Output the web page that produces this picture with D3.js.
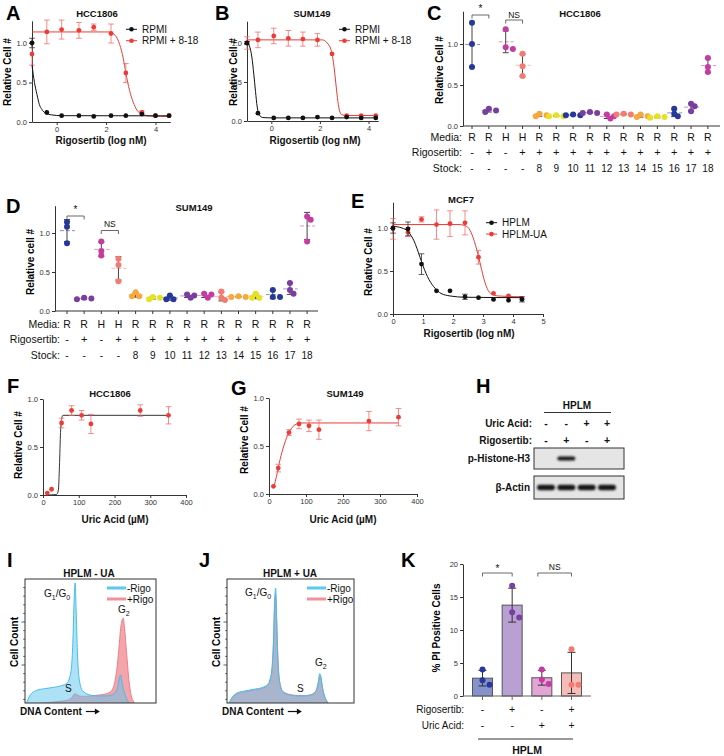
<!DOCTYPE html>
<html>
<head>
<meta charset="utf-8">
<title></title>
<style type="text/css">
body { margin: 0; background: #fff; }
svg { font-family: "Liberation Sans", Arial, sans-serif; }
.axis .tick text { font-family: "Liberation Sans", Arial, sans-serif; font-size: 7.5px; fill: #333; }
.axis .domain, .axis .tick line { stroke: #333; }
.letter { font-weight: bold; font-size: 20px; }
</style>
</head>
<body>
<svg width="724" height="756"></svg>
<script src="https://d3js.org/d3.v7.min.js"></script>
<script type="text/javascript">
// ---------- A: HCC1806, RPMI vs RPMI + 8-18 ----------
var doseA = [-1, -0.4, 0.2, 0.9, 1.5, 2.2, 2.8, 3.45, 4.0, 4.55];
var rpmiA = [1.0, 0.12, 0.08, 0.08, 0.07, 0.08, 0.08, 0.10, 0.08, 0.08];
var rpmiAErr = [0.06, 0.01, 0, 0, 0, 0, 0, 0.01, 0, 0];
var rpmi818A = [0.86, 1.14, 1.17, 1.16, 1.20, 1.12, 0.62, 0.12, 0.08, 0.08];
var rpmi818AErr = [0.14, 0.15, 0.12, 0.10, 0.04, 0.12, 0.12, 0.02, 0.01, 0.01];
var fitRpmiA = [[-1, 0.72], [-0.9, 0.5], [-0.8, 0.35], [-0.7, 0.22], [-0.6, 0.16], [-0.45, 0.11], [-0.2, 0.09], [0.2, 0.08], [4.6, 0.078]];
var fitRpmi818A = [[-1, 1.14], [2.1, 1.14], [2.36, 1.1], [2.55, 0.98], [2.7, 0.8], [2.8, 0.62], [2.95, 0.4], [3.1, 0.25], [3.25, 0.15], [3.45, 0.1], [3.8, 0.075], [4.6, 0.07]];

// ---------- B: SUM149 ----------
var doseB = [-1, -0.55, 0.1, 0.7, 1.3, 1.9, 2.5, 3.1, 3.7, 4.3];
var rpmiB = [1.0, 0.10, 0.04, 0.04, 0.04, 0.05, 0.04, 0.05, 0.04, 0.04];
var rpmiBErr = [0.02, 0.01, 0, 0, 0, 0, 0, 0, 0, 0];
var rpmi818B = [1.0, 1.04, 1.09, 1.06, 1.05, 1.04, 0.86, 0.07, 0.07, 0.07];
var rpmi818BErr = [0.08, 0.10, 0.10, 0.10, 0.09, 0.08, 0.01, 0.01, 0.01, 0.01];
var fitRpmiB = [[-1, 1.0], [-0.9, 0.96], [-0.8, 0.82], [-0.72, 0.6], [-0.65, 0.38], [-0.58, 0.18], [-0.5, 0.08], [-0.35, 0.045], [0, 0.04], [4.3, 0.04]];
var fitRpmi818B = [[-1, 1.04], [2.1, 1.04], [2.3, 1.0], [2.45, 0.92], [2.5, 0.86], [2.58, 0.7], [2.65, 0.5], [2.72, 0.3], [2.8, 0.14], [2.9, 0.08], [3.1, 0.07], [4.3, 0.07]];

// ---------- C / D: stock screen ----------
var mediaLab = ["R", "R", "H", "H", "R", "R", "R", "R", "R", "R", "R", "R", "R", "R", "R"];
var rigoLab = ["-", "+", "-", "+", "+", "+", "+", "+", "+", "+", "+", "+", "+", "+", "+"];
var stockLab = ["-", "-", "-", "-", "8", "9", "10", "11", "12", "13", "14", "15", "16", "17", "18"];
var cellC = [[1.26, 1.0, 0.72], [0.21, 0.19, 0.17], [1.18, 0.96, 0.94], [0.88, 0.73, 0.61],
  [0.15, 0.13, 0.12], [0.13, 0.12, 0.12], [0.14, 0.13, 0.13], [0.17, 0.16, 0.16], [0.14, 0.12, 0.09],
  [0.15, 0.14, 0.14], [0.14, 0.12, 0.11], [0.12, 0.11, 0.10], [0.21, 0.15, 0.12], [0.27, 0.24, 0.18],
  [0.83, 0.72, 0.66]];
var cellD = [[1.14, 1.08, 0.87], [0.17, 0.16, 0.15], [0.89, 0.77, 0.71], [0.67, 0.59, 0.38],
  [0.24, 0.19, 0.19], [0.18, 0.17, 0.15], [0.20, 0.15, 0.15], [0.21, 0.20, 0.17], [0.22, 0.21, 0.17],
  [0.25, 0.17, 0.14], [0.19, 0.18, 0.18], [0.22, 0.17, 0.17], [0.27, 0.18, 0.18], [0.36, 0.27, 0.22],
  [1.21, 1.17, 0.89]];

// ---------- E: MCF7 ----------
var doseE = [0, 0.5, 0.95, 1.45, 1.9, 2.4, 2.85, 3.35, 3.85, 4.3];
var hplmE = [1.0, 0.99, 0.58, 0.27, 0.27, 0.20, 0.19, 0.17, 0.16, 0.17];
var hplmEErr = [0.06, 0.08, 0.12, 0.01, 0.01, 0.03, 0.01, 0.01, 0.01, 0.03];
var hplmUaE = [0.99, 0.95, 1.10, 1.04, 1.05, 1.06, 0.66, 0.24, 0.21, 0.18];
var hplmUaEErr = [0.12, 0.05, 0.03, 0.17, 0.15, 0.14, 0.08, 0.01, 0.01, 0.01];
var fitHplmE = [[0, 1.02], [0.3, 1.0], [0.5, 0.96], [0.7, 0.85], [0.9, 0.66], [1.0, 0.56], [1.2, 0.4], [1.4, 0.3], [1.6, 0.24], [1.9, 0.21], [2.4, 0.195], [4.3, 0.19]];
var fitHplmUaE = [[0, 1.04], [2.2, 1.04], [2.45, 1.02], [2.6, 0.95], [2.75, 0.8], [2.85, 0.67], [2.95, 0.52], [3.1, 0.33], [3.25, 0.24], [3.5, 0.21], [4.3, 0.2]];

// ---------- F / G: uric acid rescue ----------
var uricF = [12, 24, 52, 80, 108, 134, 272, 351];
var cellF = [0.02, 0.06, 0.75, 0.88, 0.83, 0.74, 0.88, 0.83];
var cellFErr = [0, 0.01, 0.05, 0.05, 0.05, 0.10, 0.06, 0.09];
var fitF = [[10, 0], [38, 0.005], [43, 0.05], [46, 0.3], [49, 0.65], [52, 0.79], [56, 0.83], [350, 0.83]];
var uricG = [12, 25, 54, 81, 108, 135, 270, 350];
var cellG = [0.08, 0.27, 0.64, 0.73, 0.71, 0.67, 0.76, 0.80];
var cellGErr = [0.01, 0.04, 0.03, 0.05, 0.06, 0.10, 0.10, 0.09];
var fitG = [[12, 0.06], [20, 0.18], [30, 0.36], [40, 0.5], [50, 0.61], [60, 0.68], [70, 0.72], [85, 0.74], [350, 0.74]];

// ---------- H: western blot ----------
var uricH = ["-", "-", "+", "+"];
var rigoH = ["-", "+", "-", "+"];
var pHistone = [0, 1, 0, 0];
var actin = [1, 1, 1, 1];

// ---------- I / J: cell cycle histograms (DNA content in % of range, counts) ----------
var dnaBins = [0, 3, 8, 15, 22, 28, 32, 34, 35.5, 36.5, 37.5, 38.3, 39, 40, 41.5, 44, 50, 56, 62, 66, 68.5, 70.5, 72, 73, 74, 75, 76, 77.5, 79.5, 82, 86, 92, 100];
var minusRigoI = [0, 25, 40, 45, 48, 52, 58, 70, 95, 150, 250, 291, 230, 130, 65, 40, 30, 28, 28, 30, 35, 45, 70, 77, 60, 45, 35, 22, 12, 5, 2, 0, 0];
var plusRigoI = [0, 5, 10, 12, 14, 16, 18, 20, 24, 28, 32, 34, 32, 30, 28, 27, 28, 30, 33, 40, 60, 100, 150, 185, 203, 209, 185, 130, 60, 20, 6, 0, 0];
var minusRigoJ = [0, 20, 35, 40, 44, 48, 55, 68, 95, 150, 250, 279, 220, 120, 60, 38, 30, 28, 28, 30, 34, 42, 62, 80, 72, 50, 36, 22, 12, 5, 2, 0, 0];
var plusRigoJ = [0, 18, 33, 38, 42, 46, 52, 64, 90, 140, 235, 265, 210, 118, 60, 38, 31, 29, 29, 31, 35, 43, 60, 76, 70, 50, 36, 22, 12, 5, 2, 0, 0];

// ---------- K: % PI positive ----------
var piK = [[4.0, 2.4, 1.7], [16.7, 12.7, 11.9], [4.0, 2.5, 1.8], [7.1, 1.7, 1.7]];
var rigoK = ["-", "+", "-", "+"];
var uricK = ["-", "-", "+", "+"];

// ======================================================
var svg = d3.select("svg");
var red = "#ee3b36", redErr = "#f36d6d", black = "#111";
var palette = ["#26399b", "#7a3da0", "#c43ca1", "#f37b72", "#f8a73d", "#e6e223"];
var barFill = ["#8592cc", "#b9a0d3", "#e2a5d6", "#f6bcb7"];

function txt(t, x, y, size, weight, anchor) {
  return svg.append("text").attr("x", x).attr("y", y)
    .style("font-size", size + "px").style("font-weight", weight || "normal")
    .attr("text-anchor", anchor || "start").attr("fill", "#111").text(t);
}
function letter(t, x, y) { svg.append("text").attr("class", "letter").attr("x", x).attr("y", y).text(t); }
function yLabel(t, x, y) {
  svg.append("text").attr("transform", "translate(" + x + "," + y + ") rotate(-90)")
    .attr("text-anchor", "middle").style("font-size", "10px").style("font-weight", "bold").text(t);
}
function bracket(x1, x2, y, label, ly, size) {
  svg.append("path").attr("d", "M" + x1 + "," + (y + 3.5) + "V" + y + "H" + x2 + "V" + (y + 3.5))
    .attr("fill", "none").attr("stroke", "#444").attr("stroke-width", 0.8);
  txt(label, (x1 + x2) / 2, ly, size || 8.5, "normal", "middle");
}
function errBar(g, x, y1, y2, color, cap, w) {
  g.append("line").attr("x1", x).attr("x2", x).attr("y1", y1).attr("y2", y2).attr("stroke", color).attr("stroke-width", w || 0.8);
  [y1, y2].forEach(function(yy) {
    g.append("line").attr("x1", x - cap).attr("x2", x + cap).attr("y1", yy).attr("y2", yy).attr("stroke", color).attr("stroke-width", w || 0.8);
  });
}

// ---------- dose-response style panels ----------
function curvePanel(o) {
  var x = d3.scaleLinear().domain(o.xDomain).range(o.xRange);
  var y = d3.scaleLinear().domain(o.yDomain).range(o.yRange);
  var g = svg.append("g");
  g.append("g").attr("class", "axis").attr("transform", "translate(0," + o.yRange[0] + ")")
    .call(d3.axisBottom(x).tickValues(o.xTicks).tickFormat(d3.format("d")).tickSize(3).tickPadding(2).tickSizeOuter(0));
  g.append("g").attr("class", "axis").attr("transform", "translate(" + o.xRange[0] + ",0)")
    .call(d3.axisLeft(y).tickValues([0, 0.5, 1]).tickFormat(d3.format(".1f")).tickSize(3).tickPadding(2).tickSizeOuter(0));
  o.series.forEach(function(s) {
    g.append("path").datum(s.fit).attr("fill", "none").attr("stroke", s.line || s.color).attr("stroke-width", 1)
      .attr("d", d3.line().x(function(d) { return x(d[0]); }).y(function(d) { return y(d[1]); }).curve(d3.curveMonotoneX));
    var pts = s.xs.map(function(v, i) { return { x: v, y: s.ys[i], e: s.err[i] }; });
    pts.forEach(function(d) {
      if (d.e > 0.015) errBar(g, x(d.x), y(d.y - d.e), y(d.y + d.e), s.errColor, 2.8);
    });
    g.selectAll(null).data(pts).enter().append("circle")
      .attr("cx", function(d) { return x(d.x); }).attr("cy", function(d) { return y(d.y); })
      .attr("r", 2.4).attr("fill", s.color);
  });
  if (o.legend) {
    o.legend.forEach(function(l, i) {
      var ly = o.legendY + i * 11.4;
      svg.append("line").attr("x1", o.legendX).attr("x2", o.legendX + 11).attr("y1", ly).attr("y2", ly).attr("stroke", l.color).attr("stroke-width", 1);
      svg.append("circle").attr("cx", o.legendX + 5.5).attr("cy", ly).attr("r", 2.3).attr("fill", l.color);
      txt(l.name, o.legendX + 16, ly + 3.5, 10);
    });
  }
}

curvePanel({
  xDomain: [-1, 4.6], xRange: [32, 170.3], yDomain: [0, 1.28], yRange: [122, 122 - 1.28 * 79], xTicks: [0, 2, 4],
  series: [
    { xs: doseA, ys: rpmi818A, err: rpmi818AErr, fit: fitRpmi818A, color: red, errColor: redErr },
    { xs: doseA, ys: rpmiA, err: rpmiAErr, fit: fitRpmiA, color: black, errColor: "#333" }
  ],
  legend: [{ name: "RPMI", color: black }, { name: "RPMI + 8-18", color: red }], legendX: 126, legendY: 29.3
});
letter("A", 6, 20);
txt("HCC1806", 97, 17, 9.5, "bold", "middle");
yLabel("Relative Cell #", 11, 72);
txt("Rigosertib (log nM)", 101, 144, 10, "bold", "middle");

curvePanel({
  xDomain: [-1, 4.4], xRange: [247, 247 + 5.4 * 24.3], yDomain: [0, 1.28], yRange: [121, 121 - 1.28 * 78], xTicks: [0, 2, 4],
  series: [
    { xs: doseB, ys: rpmi818B, err: rpmi818BErr, fit: fitRpmi818B, color: red, errColor: redErr },
    { xs: doseB, ys: rpmiB, err: rpmiBErr, fit: fitRpmiB, color: black, errColor: "#333" }
  ],
  legend: [{ name: "RPMI", color: black }, { name: "RPMI + 8-18", color: red }], legendX: 339, legendY: 29.3
});
letter("B", 215, 20);
txt("SUM149", 312, 17, 9.5, "bold", "middle");
yLabel("Relative Cell #", 237, 72);
txt("Rigosertib (log nM)", 315, 144, 10, "bold", "middle");

curvePanel({
  xDomain: [0, 5], xRange: [393, 543], yDomain: [0, 1.3], yRange: [314, 314 - 1.3 * 86], xTicks: [0, 1, 2, 3, 4, 5],
  series: [
    { xs: doseE, ys: hplmUaE, err: hplmUaEErr, fit: fitHplmUaE, color: red, errColor: redErr },
    { xs: doseE, ys: hplmE, err: hplmEErr, fit: fitHplmE, color: black, errColor: "#333" }
  ],
  legend: [{ name: "HPLM", color: black }, { name: "HPLM-UA", color: red }], legendX: 486, legendY: 222.7
});
letter("E", 351, 208);
txt("MCF7", 461, 203, 9.5, "bold", "middle");
yLabel("Relative Cell #", 372, 262);
txt("Rigosertib (log nM)", 469, 337, 10, "bold", "middle");

curvePanel({
  xDomain: [0, 400], xRange: [43, 186], yDomain: [0, 1], yRange: [495, 399], xTicks: [0, 100, 200, 300, 400],
  series: [{ xs: uricF, ys: cellF, err: cellFErr, fit: fitF, color: red, line: "#333", errColor: redErr }]
});
letter("F", 7, 393);
txt("HCC1806", 110, 397, 9.5, "bold", "middle");
yLabel("Relative Cell #", 22, 445);
txt("Uric Acid (\u00b5M)", 115, 523, 10, "bold", "middle");

curvePanel({
  xDomain: [0, 400], xRange: [269, 417], yDomain: [0, 1], yRange: [494, 398], xTicks: [0, 100, 200, 300, 400],
  series: [{ xs: uricG, ys: cellG, err: cellGErr, fit: fitG, color: red, errColor: redErr }]
});
letter("G", 231, 395);
txt("SUM149", 345, 397, 9.5, "bold", "middle");
yLabel("Relative Cell #", 248, 440);
txt("Uric Acid (\u00b5M)", 343, 523, 10, "bold", "middle");

// ---------- C / D scatter panels ----------
function swarm(vals, y, r, step) {
  var placed = [];
  return vals.map(function(v) {
    var py = y(v), offs = [0, step, -step, 2 * step, -2 * step], dx = 0;
    for (var k = 0; k < offs.length; k++) {
      var ok = placed.every(function(p) { return Math.hypot(p[0] - offs[k], p[1] - py) >= r; });
      if (ok) { dx = offs[k]; break; }
    }
    placed.push([dx, py]);
    return [dx, py];
  });
}

function dotPanel(o) {
  var y = d3.scaleLinear().domain([0, o.yMax]).range([o.y0, o.y0 - o.yMax * o.k]);
  var x = d3.scalePoint().domain(d3.range(o.data.length)).range([o.c0, o.c0 + (o.data.length - 1) * o.step]);
  var g = svg.append("g");
  g.append("g").attr("class", "axis").attr("transform", "translate(" + o.ax + ",0)")
    .call(d3.axisLeft(y).tickValues([0, 0.5, 1]).tickFormat(d3.format(".1f")).tickSize(3).tickPadding(2).tickSizeOuter(0));
  g.append("line").attr("x1", o.ax).attr("x2", o.axEnd).attr("y1", o.y0).attr("y2", o.y0).attr("stroke", "#333");
  o.data.forEach(function(vals, i) {
    var cx = x(i), c = palette[i % 6];
    var m = d3.mean(vals), sd = d3.deviation(vals);
    g.append("line").attr("x1", cx).attr("x2", cx).attr("y1", o.y0).attr("y2", o.y0 + 3).attr("stroke", "#333");
    g.append("line").attr("x1", cx - 7).attr("x2", cx + 8).attr("y1", y(m)).attr("y2", y(m))
      .attr("stroke", c).attr("stroke-opacity", 0.55).attr("stroke-dasharray", "4,2");
    errBar(g, cx, y(m - sd), y(m + sd), "#444", 3, 1);
    swarm(vals, y, 4.2, 3.6).forEach(function(p) {
      g.append("circle").attr("cx", cx + p[0]).attr("cy", p[1]).attr("r", 3).attr("fill", c);
    });
    txt(mediaLab[i], cx, o.rows[0] + 3.7, 10.5, "normal", "middle");
    txt(rigoLab[i], cx, o.rows[1] + 3.7, 11, "normal", "middle");
    txt(stockLab[i], cx, o.rows[2] + 3.7, 10, "normal", "middle");
  });
  txt("Media:", o.labX, o.rows[0] + 3.7, 10.5, "normal", "end");
  txt("Rigosertib:", o.labX, o.rows[1] + 3.7, 10.5, "normal", "end");
  txt("Stock:", o.labX, o.rows[2] + 3.7, 10.5, "normal", "end");
  return x;
}

var xC = dotPanel({ data: cellC, yMax: 1.4, y0: 126, k: 82, c0: 472, step: 16.85, ax: 463, axEnd: 720, rows: [137, 152, 168], labX: 462 });
letter("C", 427, 20);
txt("HCC1806", 580, 17, 9.5, "bold", "middle");
yLabel("Relative Cell #", 443, 70);
bracket(xC(0), xC(1), 15, "*", 12, 10);
bracket(xC(2), xC(3), 20, "NS", 18);

var xD = dotPanel({ data: cellD, yMax: 1.35, y0: 311, k: 78, c0: 67, step: 17.15, ax: 55, axEnd: 318, rows: [324, 339, 355], labX: 60 });
letter("D", 6, 213);
txt("SUM149", 194, 211, 9.5, "bold", "middle");
yLabel("Relative cell #", 34, 262);
bracket(xD(0), xD(1), 216, "*", 213, 10);
bracket(xD(2), xD(3), 230.5, "NS", 227);

// ---------- H: blot ----------
letter("H", 476, 393);
var lane = d3.scalePoint().domain(d3.range(4)).range([546, 607]);
txt("HPLM", 577, 409, 10, "bold", "middle");
svg.append("line").attr("x1", 544).attr("x2", 611).attr("y1", 412.5).attr("y2", 412.5).attr("stroke", "#333");
txt("Uric Acid:", 532, 426.5, 10, "bold", "end");
txt("Rigosertib:", 532, 443.5, 10, "bold", "end");
uricH.forEach(function(s, i) { txt(s, lane(i), 426.5, 10.5, "bold", "middle"); });
rigoH.forEach(function(s, i) { txt(s, lane(i), 443.5, 10.5, "bold", "middle"); });
var defs = svg.append("defs");
defs.append("filter").attr("id", "blur").attr("x", "-30%").attr("y", "-80%").attr("width", "160%").attr("height", "260%")
  .append("feGaussianBlur").attr("stdDeviation", 0.9);
function blot(y0, h, bands, bh, label, ly) {
  svg.append("rect").attr("x", 534).attr("y", y0).attr("width", 90).attr("height", h)
    .attr("fill", "#e5e5e5").attr("stroke", "#333").attr("stroke-width", 1);
  bands.forEach(function(b, i) {
    if (!b) return;
    svg.append("rect").attr("x", lane(i) - 9).attr("y", y0 + h / 2 - bh / 2).attr("width", 18).attr("height", bh)
      .attr("rx", bh / 2).attr("fill", "#161616").attr("filter", "url(#blur)");
  });
  txt(label, 530, ly, 10, "bold", "end");
}
blot(448, 21, pHistone, 4, "p-Histone-H3", 462);
blot(476, 23, actin, 5.5, "\u03b2-Actin", 491);

// ---------- I / J: histograms ----------
function histPanel(o) {
  var x = d3.scaleLinear().domain([0, 100]).range([o.x0, o.x1]);
  var y = d3.scaleLinear().domain([0, 300]).range([708, 579]);
  var id = "clip" + o.x0;
  defs.append("clipPath").attr("id", id).append("rect").attr("x", o.x0).attr("y", 579).attr("width", o.x1 - o.x0).attr("height", 124);
  var g = svg.append("g").attr("clip-path", "url(#" + id + ")");
  var area = d3.area().x(function(d, i) { return x(dnaBins[i]); }).y0(708).y1(function(d) { return y(d); }).curve(d3.curveMonotoneX);
  var line = d3.line().x(function(d, i) { return x(dnaBins[i]); }).y(function(d) { return y(d); }).curve(d3.curveMonotoneX);
  g.append("path").datum(o.plus).attr("d", area).attr("fill", "#f0858f").attr("fill-opacity", 0.75);
  g.append("path").datum(o.plus).attr("d", line).attr("fill", "none").attr("stroke", "#ef7d8a").attr("stroke-width", 1);
  g.append("path").datum(o.minus).attr("d", area).attr("fill", "#5cc5ee").attr("fill-opacity", 0.5);
  g.append("path").datum(o.minus).attr("d", line).attr("fill", "none").attr("stroke", "#45bdec").attr("stroke-width", 1);
  svg.append("rect").attr("x", o.x0).attr("y", 579).attr("width", o.x1 - o.x0).attr("height", 124)
    .attr("fill", "none").attr("stroke", "#333").attr("stroke-width", 1);
  d3.range(20, 300, 20).forEach(function(v) {
    var major = v % 100 === 0;
    svg.append("line").attr("x1", o.x0 - (major ? 3.5 : 1.8)).attr("x2", o.x0).attr("y1", y(v)).attr("y2", y(v)).attr("stroke", "#333").attr("stroke-width", 0.8);
  });
  // legend
  [["-Rigo", "#5cc8f0"], ["+Rigo", "#f3909c"]].forEach(function(l, i) {
    var ly = 588 + i * 11;
    svg.append("line").attr("x1", o.lx).attr("x2", o.lx + 19).attr("y1", ly).attr("y2", ly).attr("stroke", l[1]).attr("stroke-width", 3);
    txt(l[0], o.lx + 20, ly + 3.5, 10);
  });
  var t = txt("G", o.g1x, o.g1y, 10);
  t.append("tspan").attr("dy", 2.5).style("font-size", "7px").text("1");
  t.append("tspan").attr("dy", -2.5).text("/G");
  t.append("tspan").attr("dy", 2.5).style("font-size", "7px").text("0");
  var t2 = txt("G", o.g2x, o.g2y, 10);
  t2.append("tspan").attr("dy", 2.5).style("font-size", "7px").text("2");
  txt("S", o.sx, 692, 10);
  var dl = txt("DNA Content", o.dx, 715, 10, "bold");
  var ax = o.dx + dl.node().getComputedTextLength() + 4;
  svg.append("path").attr("d", "M" + ax + ",711.5H" + (ax + 11)).attr("stroke", "#111").attr("stroke-width", 1.2);
  svg.append("path").attr("d", "M" + (ax + 14) + ",711.5L" + (ax + 9) + ",708.5V714.5Z").attr("fill", "#111");
  txt(o.title, o.tx, 577, 10, "bold", "middle");
  yLabel("Cell Count", o.yl, 642);
}
histPanel({ x0: 25, x1: 156, minus: minusRigoI, plus: plusRigoI, lx: 107, g1x: 44, g1y: 597, g2x: 118, g2y: 613, sx: 65, dx: 20, title: "HPLM - UA", tx: 89, yl: 18 });
letter("I", 7, 567);
histPanel({ x0: 227, x1: 354, minus: minusRigoJ, plus: plusRigoJ, lx: 307, g1x: 245, g1y: 596, g2x: 315, g2y: 666, sx: 297, dx: 222, title: "HPLM + UA", tx: 290, yl: 220 });
letter("J", 199, 567);

// ---------- K: bars ----------
letter("K", 401, 567);
var yK = d3.scaleLinear().domain([0, 20]).range([696, 564]);
var xK = d3.scalePoint().domain(d3.range(4)).range([482.5, 571.5]);
svg.append("g").attr("class", "axis").attr("transform", "translate(463,0)")
  .call(d3.axisLeft(yK).tickValues([0, 5, 10, 15, 20]).tickSize(3).tickPadding(2).tickSizeOuter(0));
piK.forEach(function(vals, i) {
  var cx = xK(i), m = d3.mean(vals);
  svg.append("rect").attr("x", cx - 10).attr("y", yK(m)).attr("width", 20).attr("height", yK(0) - yK(m))
    .attr("fill", barFill[i]).attr("stroke", "#555").attr("stroke-width", 1);
});
svg.append("line").attr("x1", 463).attr("x2", 591).attr("y1", 696).attr("y2", 696).attr("stroke", "#666").attr("stroke-width", 1);
var kCols = [palette[0], palette[1], palette[2], palette[3]];
piK.forEach(function(vals, i) {
  var cx = xK(i), m = d3.mean(vals), sd = d3.deviation(vals);
  var g = svg.append("g");
  errBar(g, cx, yK(m - sd), yK(m + sd), "#333", 4, 1);
  swarm(vals, yK, 7, 7).forEach(function(p) {
    g.append("circle").attr("cx", cx + p[0]).attr("cy", p[1]).attr("r", 3).attr("fill", kCols[i]);
  });
  svg.append("line").attr("x1", cx).attr("x2", cx).attr("y1", 696).attr("y2", 700).attr("stroke", "#666");
  txt(rigoK[i], cx, 712.5, 10.5, "normal", "middle");
  txt(uricK[i], cx, 728.5, 10.5, "normal", "middle");
});
txt("Rigosertib:", 464, 712.5, 10, "normal", "end");
txt("Uric Acid:", 464, 728.5, 10, "normal", "end");
svg.append("line").attr("x1", 478).attr("x2", 573).attr("y1", 739).attr("y2", 739).attr("stroke", "#333");
txt("HPLM", 527, 754, 10.5, "bold", "middle");
yLabel("% PI Positive Cells", 440, 628);
bracket(xK(0), xK(1), 573, "*", 572, 10);
bracket(xK(2) - 4, xK(3), 573, "NS", 570);
</script>
</body>
</html>
